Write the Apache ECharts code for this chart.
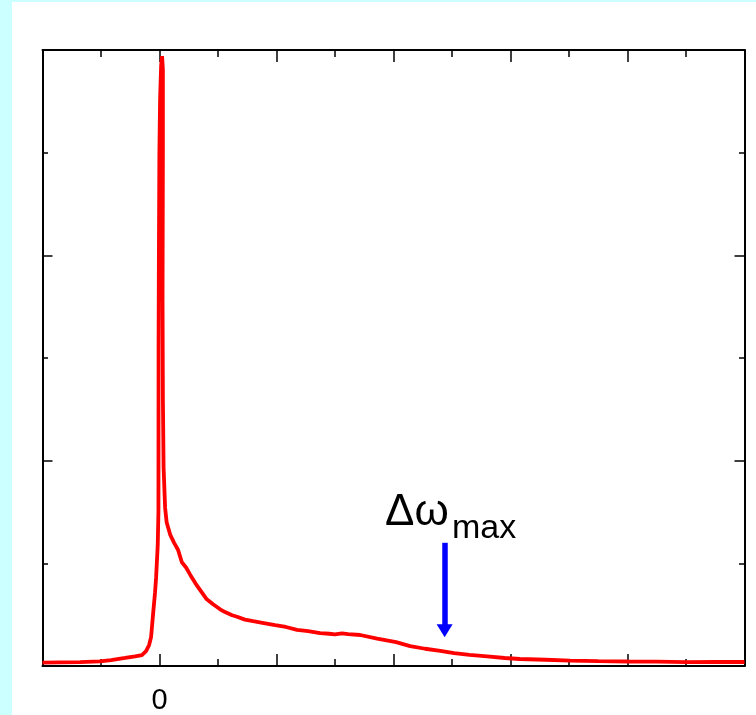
<!DOCTYPE html>
<html>
<head>
<meta charset="utf-8">
<script src="https://cdn.jsdelivr.net/npm/echarts@6/dist/echarts.min.js"></script>
<style>
html,body{margin:0;padding:0;background:#ccffff;width:756px;height:715px;overflow:hidden;}
#c{position:absolute;left:12px;top:2px;width:744px;height:713px;background:#ffffff;}
</style>
</head>
<body>
<div id="c"></div>
<script>
// Spectrum: x in major-tick units (0 = line centre), y in tick units
const xs = [-1.0,-0.85,-0.68,-0.51,-0.414,-0.294,-0.209,-0.149,-0.115,-0.089,-0.072,-0.052,-0.038,-0.029,-0.015,-0.009,-0.0085,-0.008,-0.005,-0.001,0.005,0.014,0.022,0.029,0.029,0.026,0.029,0.035,0.048,0.061,0.091,0.125,0.159,0.191,0.227,0.262,0.319,0.404,0.458,0.518,0.560,0.621,0.663,0.730,0.800,0.880,0.988,1.080,1.176,1.270,1.373,1.450,1.50,1.56,1.612,1.715,1.86,2.022,2.142,2.27,2.40,2.518,2.65,2.80,2.95,3.08,3.30,3.51,3.75,4.0,4.25,4.5,4.75,5.0];
const ys = [0.032,0.036,0.037,0.046,0.058,0.078,0.094,0.107,0.145,0.204,0.281,0.543,0.717,0.863,1.18,1.51,2.12,3.09,4.06,5.0,5.52,5.85,5.94,5.81,5.03,3.58,2.61,1.93,1.54,1.40,1.28,1.20,1.13,1.01,0.96,0.89,0.785,0.649,0.601,0.552,0.525,0.494,0.480,0.452,0.436,0.420,0.397,0.380,0.352,0.340,0.320,0.314,0.308,0.318,0.311,0.302,0.267,0.233,0.194,0.168,0.147,0.126,0.108,0.094,0.078,0.068,0.061,0.053,0.048,0.044,0.042,0.038,0.041,0.039];
// Arrow marking Δω_max
const arrowX = [2.437, 2.437];
const arrowY = [1.2, 0.344];
const xTickLabels = {0: '0'};

const data = xs.map((x, i) => [x, ys[i]]);
const chart = echarts.init(document.getElementById('c'), null, {renderer: 'canvas'});
const axisLine = {show: true, onZero: false, lineStyle: {color: '#000', width: 2}};
function xAxis(pos, showLabel) {
  return {
    type: 'value', position: pos, min: -1, max: 5, interval: 1,
    axisLine: axisLine,
    axisTick: {show: true, inside: true, length: 12, lineStyle: {color: '#000', width: 1.5}},
    minorTick: {show: true, splitNumber: 2, length: 7, lineStyle: {color: '#000', width: 1.5}},
    splitLine: {show: false}, minorSplitLine: {show: false},
    axisLabel: {show: showLabel, margin: 20, color: '#000', fontSize: 29, fontFamily: 'Liberation Sans, Arial, sans-serif',
      formatter: v => (xTickLabels[v] !== undefined ? xTickLabels[v] : '')}
  };
}
function yAxis(pos) {
  return {
    type: 'value', position: pos, min: 0, max: 6, interval: 2,
    axisLine: axisLine,
    axisTick: {show: true, inside: true, length: 10, lineStyle: {color: '#000', width: 1.5}},
    minorTick: {show: true, splitNumber: 2, length: 5.5, lineStyle: {color: '#000', width: 1.5}},
    splitLine: {show: false}, minorSplitLine: {show: false},
    axisLabel: {show: false}
  };
}
chart.setOption({
  animation: false,
  backgroundColor: '#ffffff',
  grid: {left: 30.5, right: 11.5, top: 48, bottom: 46, containLabel: false},
  xAxis: [xAxis('bottom', true), xAxis('top', false)],
  yAxis: [yAxis('left'), yAxis('right')],
  series: [{
    type: 'line', data: data, showSymbol: false, symbol: 'none',
    lineStyle: {color: '#ff0000', width: 3.8}, z: 3,
    markLine: {
      silent: true, symbol: ['none', 'triangle'], symbolSize: [16, 13],
      lineStyle: {color: '#0000ff', width: 5.5, type: 'solid'},
      label: {show: false},
      data: [[{coord: [arrowX[0], arrowY[0]]}, {coord: [arrowX[1], arrowY[1]]}]]
    }
  }],
  graphic: [
    {type: 'text', left: 373, top: 489, style: {text: 'Δω', fontSize: 44, fontFamily: 'Liberation Sans, Arial, sans-serif', fill: '#000'}},
    {type: 'text', left: 440, top: 510, style: {text: 'max', fontSize: 34, fontFamily: 'Liberation Sans, Arial, sans-serif', fill: '#000'}}
  ]
});
</script>
</body>
</html>
